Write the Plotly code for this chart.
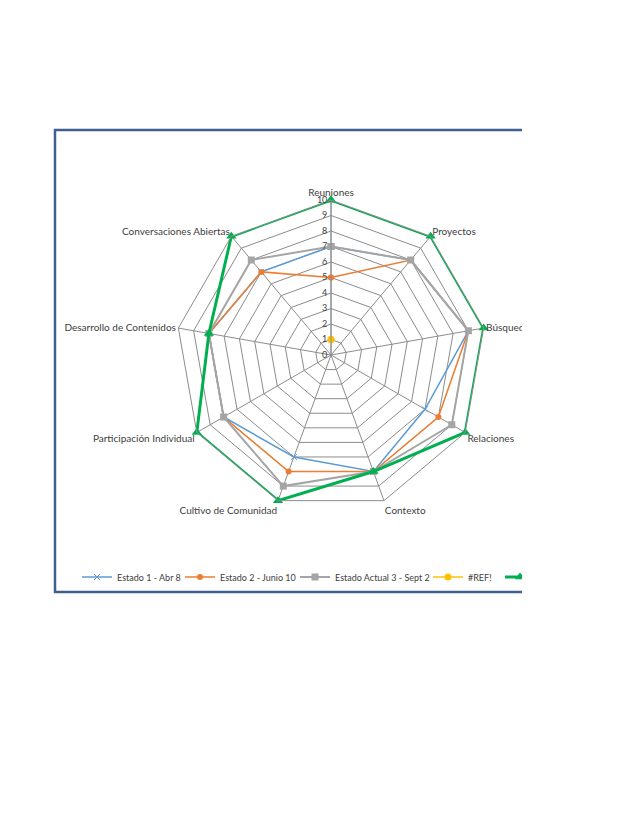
import plotly.graph_objects as go

categories = ["Reuniones", "Proyectos", "Búsqueda", "Relaciones", "Contexto",
              "Cultivo de Comunidad", "Participación Individual",
              "Desarrollo de Contenidos", "Conversaciones Abiertas"]
estado1 = [7, 8, 9, 7, 8, 7, 8, 8, 7]
estado2 = [5, 8, 9, 8, 8, 8, 8, 8, 7]
estado3 = [7, 8, 9, 9, 8, 9, 8, 8, 8]
ref_vals = [1, None, None, None, None, None, None, None, None]
meta = [10, 10, 10, 10, 8, 10, 10, 8, 10]
radial_ticks = [0, 1, 2, 3, 4, 5, 6, 7, 8, 9, 10]
series_names = ["Estado 1 - Abr 8", "Estado 2 - Junio 10", "Estado Actual 3 - Sept 2", "#REF!", "Meta"]

W, H = 522, 826
FONT = "Lato"
TXT = "#404040"

def closed(v):
    return list(v) + [v[0]]

cats_c = closed(categories)

styles = [
    dict(line=dict(color="#5B9BD5", width=1.5),
         marker=dict(symbol="x-thin", size=6, line=dict(color="#5B9BD5", width=1))),
    dict(line=dict(color="#ED7D31", width=1.5),
         marker=dict(symbol="circle", size=6, color="#ED7D31")),
    dict(line=dict(color="#A5A5A5", width=2),
         marker=dict(symbol="square", size=7, color="#A5A5A5")),
    dict(line=dict(color="#FFC000", width=1.5),
         marker=dict(symbol="circle", size=7, color="#FFC000")),
    dict(line=dict(color="#00B050", width=3),
         marker=dict(symbol="triangle-up", size=9, color="#00B050")),
]
values = [estado1, estado2, estado3, ref_vals, meta]
legend_ids = ["legend", "legend2", "legend3", "legend4", "legend5"]
legend_x = [77, 180, 295, 428, 500]  # left pixel of each legend entry

fig = go.Figure()
for name, vals, st, lid in zip(series_names, values, styles, legend_ids):
    fig.add_trace(go.Scatterpolar(r=closed(vals), theta=cats_c, name=name,
                                  mode="lines+markers", legend=lid, **st))

cx, cy, R = 331, 355, 155
LEG_Y = 577
legend_layout = {}
for lid, lx in zip(legend_ids, legend_x):
    legend_layout[lid] = dict(orientation="h", x=lx / W, xanchor="left",
                              y=(H - LEG_Y) / H, yanchor="middle",
                              font=dict(family=FONT, size=9, color=TXT), itemwidth=30,
                              bgcolor="rgba(0,0,0,0)", borderwidth=0)

fig.update_layout(
    width=W, height=H, margin=dict(l=0, r=0, t=0, b=0, autoexpand=False),
    paper_bgcolor="white", plot_bgcolor="white",
    font=dict(family=FONT, size=10, color=TXT),
    polar=dict(
        domain=dict(x=[(cx - R) / W, (cx + R) / W], y=[(H - cy - R) / H, (H - cy + R) / H]),
        bgcolor="white", gridshape="linear",
        radialaxis=dict(range=[0, 10], tickvals=radial_ticks, angle=90, side="counterclockwise",
                        showline=True, linecolor="#8C8C8C", linewidth=1,
                        gridcolor="#8C8C8C", gridwidth=1, ticks="",
                        ticksuffix="\u00a0\u00a0\u00a0\u00a0\u00a0\u00a0",
                        tickfont=dict(family=FONT, size=9, color=TXT), tickangle=90),
        angularaxis=dict(direction="clockwise", rotation=90, categoryorder="array",
                         categoryarray=categories,
                         showline=True, linecolor="#8C8C8C", linewidth=1,
                         gridcolor="#8C8C8C", gridwidth=1, ticks="",
                         tickfont=dict(family=FONT, size=10, color=TXT)),
    ),
    showlegend=True,
    shapes=[dict(type="rect", xref="paper", yref="paper",
                 x0=55 / W, x1=1.2, y0=(H - 592) / H, y1=(H - 130) / H,
                 line=dict(color="#3F5F91", width=2.5), fillcolor="rgba(0,0,0,0)", layer="below")],
    **legend_layout,
)

fig.write_html("out.html")
